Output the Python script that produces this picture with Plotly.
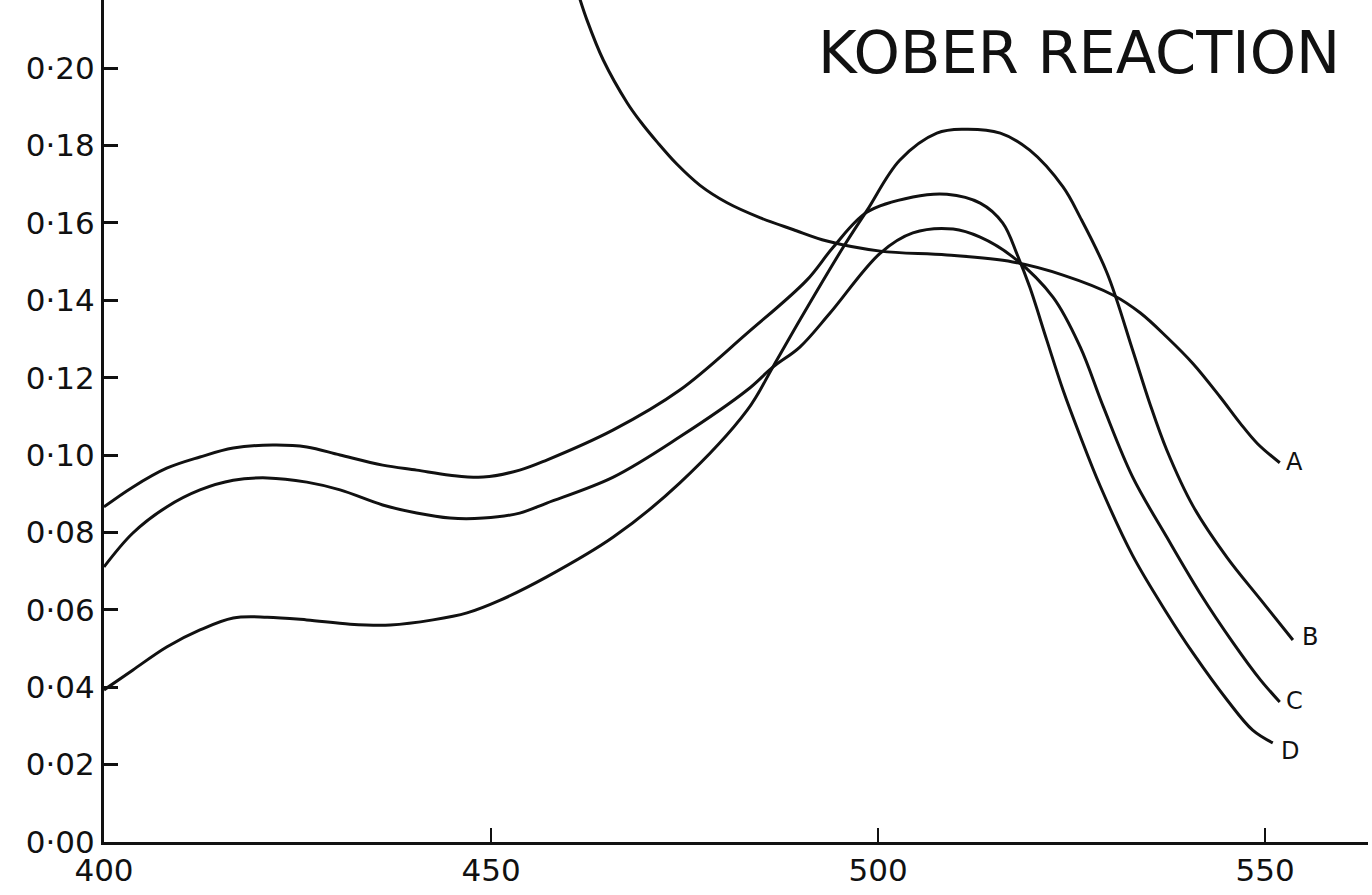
import plotly.graph_objects as go

# ---- data (wavelength nm, optical density) ----
a_x = [461.3, 462.4, 464.5, 467.6, 469.3, 471.5, 474.0, 477.0, 480.5, 484.8, 489.0, 493.4, 500.3,
       508.9, 517.4, 523.9, 530.4, 533.9, 537.3, 540.7, 544.2, 546.8, 549.0, 551.9]
a_y = [0.2190, 0.2124, 0.2021, 0.1910, 0.1862, 0.1808, 0.1752, 0.1697, 0.1652, 0.1613, 0.1583, 0.1553, 0.1527,
       0.1517, 0.1499, 0.1465, 0.1413, 0.1367, 0.1305, 0.1236, 0.1150, 0.1082, 0.1030, 0.0980]

b_x = [400.0, 403.7, 408.1, 412.4, 416.7, 421.1, 426.2, 431.8, 437.0, 442.5, 446.9, 451.2, 457.2,
       465.8, 474.4, 483.1, 486.4, 489.9, 495.5, 498.6, 502.8, 507.6, 511.0, 515.8, 519.6,
       523.9, 526.1, 529.6, 532.9, 535.1, 537.3, 540.7, 545.1, 549.4, 553.6]
b_y = [0.0393, 0.0444, 0.0504, 0.0548, 0.0579, 0.0581, 0.0574, 0.0563, 0.0561, 0.0574, 0.0592, 0.0625, 0.0685,
       0.0788, 0.0928, 0.1116, 0.1227, 0.1349, 0.1537, 0.1633, 0.1762, 0.1832, 0.1842, 0.1832, 0.1788,
       0.1693, 0.1615, 0.1470, 0.1271, 0.1134, 0.1013, 0.0868, 0.0735, 0.0627, 0.0522]

c_x = [400.0, 403.7, 408.1, 412.4, 416.7, 421.1, 426.2, 430.5, 436.0, 440.4, 444.7, 449.0, 453.7,
       457.2, 465.8, 474.4, 483.1, 486.4, 489.9, 493.8, 500.3, 504.5, 509.7, 513.2, 517.4, 522.6,
       526.1, 529.1, 532.9, 537.3, 541.6, 545.9, 549.4, 551.9]
c_y = [0.0711, 0.0798, 0.0866, 0.0910, 0.0935, 0.0941, 0.0930, 0.0910, 0.0871, 0.0850, 0.0837, 0.0837, 0.0850,
       0.0876, 0.0943, 0.1047, 0.1168, 0.1227, 0.1279, 0.1367, 0.1522, 0.1574, 0.1584, 0.1563, 0.1512, 0.1408,
       0.1280, 0.1125, 0.0943, 0.0788, 0.0643, 0.0514, 0.0419, 0.0362]

d_x = [400.0, 403.7, 408.1, 412.4, 416.7, 421.8, 426.2, 430.5, 436.0, 440.4, 444.7, 449.0, 453.7,
       457.2, 465.8, 474.4, 483.1, 490.8, 494.2, 498.6, 504.5, 508.9, 513.2, 516.1, 518.0, 519.6,
       521.8, 523.9, 526.1, 528.7, 532.9, 537.3, 540.7, 545.1, 548.4, 551.0]
d_y = [0.0866, 0.0917, 0.0966, 0.0995, 0.1018, 0.1026, 0.1021, 0.1000, 0.0974, 0.0961, 0.0948, 0.0943, 0.0961,
       0.0987, 0.1065, 0.1168, 0.1315, 0.1452, 0.1537, 0.1628, 0.1667, 0.1674, 0.1651, 0.1600, 0.1517, 0.1434,
       0.1297, 0.1168, 0.1050, 0.0920, 0.0740, 0.0592, 0.0488, 0.0367, 0.0289, 0.0256]

series_names = ["A", "B", "C", "D"]
label_x = [552.4, 554.5, 552.4, 551.8]
label_y = [0.0982, 0.0530, 0.0364, 0.0235]

x_tick_vals = [400, 450, 500, 550]
x_tick_text = ["400", "450", "500", "550"]
y_tick_vals = [0.00, 0.02, 0.04, 0.06, 0.08, 0.10, 0.12, 0.14, 0.16, 0.18, 0.20]
y_tick_text = ["0·00", "0·02", "0·04", "0·06", "0·08", "0·10", "0·12", "0·14", "0·16", "0·18", "0·20"]

title_text = "KOBER REACTION"

FONT = "DejaVu Sans"
INK = "#111111"

fig = go.Figure()
for name, xs, ys in zip(series_names, [a_x, b_x, c_x, d_x], [a_y, b_y, c_y, d_y]):
    fig.add_trace(go.Scatter(x=xs, y=ys, mode="lines", name=name,
                             line=dict(color=INK, width=3, shape="spline", smoothing=1.0),
                             showlegend=False, hoverinfo="skip"))

for name, lx, ly in zip(series_names, label_x, label_y):
    fig.add_annotation(x=lx, y=ly, xref="x", yref="y", text=name, showarrow=False,
                       xanchor="left", yanchor="middle",
                       font=dict(family=FONT, size=24, color=INK))

fig.add_annotation(x=0.771, y=0.938, xref="paper", yref="paper", text=title_text,
                   showarrow=False, xanchor="center", yanchor="middle",
                   font=dict(family=FONT, size=59, color=INK))

fig.update_layout(
    width=1372, height=895,
    margin=dict(l=104, r=4, t=0, b=53),
    paper_bgcolor="white", plot_bgcolor="white",
    font=dict(family=FONT, color=INK),
)
fig.update_xaxes(range=[400, 563.3], tickvals=x_tick_vals, ticktext=x_tick_text,
                 showgrid=False, zeroline=False, showline=True, linecolor=INK, linewidth=3,
                 ticks="inside", ticklen=14, tickwidth=2, tickcolor=INK,
                 ticklabelstandoff=-1,
                 tickfont=dict(family=FONT, size=31, color=INK))
fig.update_yaxes(range=[0, 0.2176], tickvals=y_tick_vals, ticktext=y_tick_text,
                 showgrid=False, zeroline=False, showline=True, linecolor=INK, linewidth=3,
                 ticks="inside", ticklen=14, tickwidth=3, tickcolor=INK,
                 tickfont=dict(family=FONT, size=31, color=INK))

fig.write_html("out.html", config={"displayModeBar": False},
               post_script="document.body.style.margin='0px';")
